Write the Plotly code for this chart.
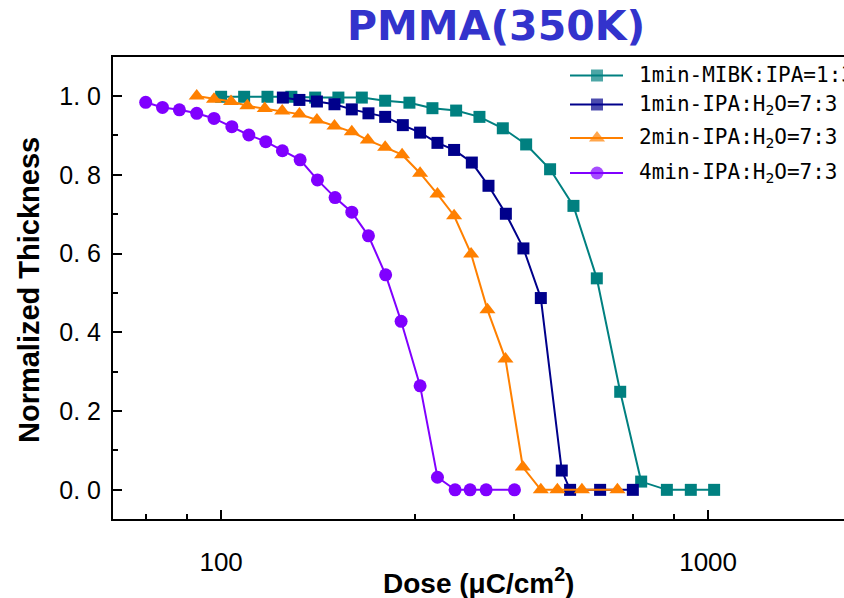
import plotly.graph_objects as go

# ---------------- data ----------------
teal_name = "1min-MIBK:IPA=1:3"
teal_dose = [100.0, 111.5, 124.5, 139.4, 156.0, 174.1, 194.5, 217.2, 243.6, 271.6, 303.8,
             339.2, 378.8, 423.0, 473.7, 529.0, 590.8, 659.9, 728.7, 822.8, 921.4, 1028.8]
teal_thk = [0.998, 0.998, 0.998, 0.998, 0.996, 0.996, 0.996, 0.988, 0.983, 0.969, 0.963,
            0.947, 0.918, 0.877, 0.814, 0.721, 0.537, 0.249, 0.021, 0.0, 0.0, 0.0]

navy_name = "1min-IPA:H<sub>2</sub>O=7:3"
navy_dose = [133.9, 144.8, 157.3, 170.9, 185.5, 200.7, 217.2, 236.1, 256.2, 278.1,
             300.9, 327.2, 354.0, 384.3, 417.6, 453.4, 500.6, 520.7, 600.1, 700.5]
navy_thk = [0.996, 0.990, 0.986, 0.979, 0.966, 0.956, 0.947, 0.926, 0.907, 0.881,
            0.863, 0.831, 0.772, 0.701, 0.613, 0.487, 0.049, 0.0, 0.0, 0.0]

orange_name = "2min-IPA:H<sub>2</sub>O=7:3"
orange_dose = [89.1, 96.7, 104.8, 113.2, 122.9, 133.5, 144.8, 157.3, 170.9, 185.5, 200.1, 217.2,
               235.3, 256.2, 278.1, 300.9, 326.1, 352.3, 383.6, 416.4, 453.4, 490.3, 550.6, 651.3]
orange_thk = [1.0, 0.992, 0.986, 0.975, 0.968, 0.962, 0.954, 0.939, 0.924, 0.909, 0.888, 0.870,
              0.851, 0.804, 0.751, 0.696, 0.599, 0.457, 0.332, 0.058, 0.0, 0.0, 0.0, 0.0]

purple_name = "4min-IPA:H<sub>2</sub>O=7:3"
purple_dose = [70.0, 75.8, 82.1, 89.1, 96.7, 105.2, 114.0, 123.5, 133.6, 145.3, 157.7,
               171.4, 185.5, 200.7, 217.7, 234.2, 256.2, 278.1, 302.3, 324.5, 350.1, 400.3]
purple_thk = [0.984, 0.971, 0.965, 0.956, 0.943, 0.922, 0.901, 0.884, 0.861, 0.838, 0.787,
              0.742, 0.705, 0.645, 0.546, 0.428, 0.264, 0.032, 0.0, 0.0, 0.0, 0.0]

y_tickvals = [0.0, 0.2, 0.4, 0.6, 0.8, 1.0]
y_ticktext = ["0.\u00a00", "0.\u00a02", "0.\u00a04", "0.\u00a06", "0.\u00a08", "1.\u00a00"]
x_tickvals = [100, 1000]
x_ticktext = ["100", "1000"]
x_minor_vals = [70, 85, 250, 400, 550, 700, 850]

# ---------------- styles ----------------
W, H = 844, 598
L, R, T, B = 113, 0, 57, 79
PW, PH = W - L - R, H - T - B

series = [
    (teal_name, teal_dose, teal_thk, "#008080", "square", 12),
    (navy_name, navy_dose, navy_thk, "#00008B", "square", 12),
    (orange_name, orange_dose, orange_thk, "#FF8000", "triangle-up", 14),
    (purple_name, purple_dose, purple_thk, "#8000FF", "circle", 13),
]

fig = go.Figure()
for name, xs, ys, col, sym, sz in series:
    fig.add_trace(go.Scatter(
        x=xs, y=ys, mode="lines+markers", name=name,
        line=dict(color=col, width=2),
        marker=dict(symbol=sym, size=sz, color=col, line=dict(width=0)),
        showlegend=False, cliponaxis=False,
    ))

# ---- custom legend (clipped at the right edge like the reference) ----
leg_rows = [75.5, 104.5, 138, 173]
leg_x0, leg_x1, leg_xm, leg_tx = 570, 623, 597, 637

def px_x(p):
    return (p - L) / PW

def px_y(p):
    return (H - B - p) / PH

annotations = []
for (name, xs, ys, col, sym, sz), ry in zip(series, leg_rows):
    fig.add_trace(go.Scatter(
        x=[px_x(leg_x0), px_x(leg_xm), px_x(leg_x1)], y=[px_y(ry)] * 3,
        xaxis="x2", yaxis="y2", mode="lines+markers",
        line=dict(color=col, width=2),
        marker=dict(symbol=sym, size=[0, sz, 0], color=col, line=dict(width=0)),
        showlegend=False, hoverinfo="skip", cliponaxis=False,
    ))
    annotations.append(dict(
        x=px_x(leg_tx), y=px_y(ry), xref="paper", yref="paper",
        xanchor="left", yanchor="middle", text=name, showarrow=False,
        font=dict(family="DejaVu Sans Mono", size=21, color="#000000"),
    ))

# axis titles
annotations.append(dict(
    x=0.5, y=px_y(581), xref="paper", yref="paper", xanchor="center", yanchor="middle",
    text="<b>Dose (μC/cm<sup>2</sup>)</b>", showarrow=False,
    font=dict(family="Liberation Sans", size=28, color="#000000"),
))
annotations.append(dict(
    x=px_x(29), y=px_y(290), xref="paper", yref="paper", xanchor="center", yanchor="middle",
    text="<b>Normalized Thickness</b>", showarrow=False, textangle=-90,
    font=dict(family="Liberation Sans", size=29, color="#000000"),
))
# title
annotations.append(dict(
    x=px_x(496), y=px_y(26), xref="paper", yref="paper", xanchor="center", yanchor="middle",
    text="<b>PMMA(350K)</b>", showarrow=False,
    font=dict(family="DejaVu Sans", size=41, color="#3333CC"),
))

fig.update_layout(
    width=W, height=H,
    margin=dict(l=L, r=R, t=T, b=B, pad=0),
    paper_bgcolor="white", plot_bgcolor="white",
    showlegend=False,
    annotations=annotations,
    xaxis=dict(
        type="log", range=[1.778, 3.279],
        tickmode="array", tickvals=x_tickvals, ticktext=x_ticktext,
        ticks="inside", ticklen=9, tickwidth=2, tickcolor="black",
        showline=True, linecolor="black", linewidth=2, mirror=True,
        showgrid=False, zeroline=False,
        tickfont=dict(family="Liberation Sans", size=26, color="black"),
        ticklabelstandoff=19,
        minor=dict(tickmode="array", tickvals=x_minor_vals, ticks="inside",
                   ticklen=5, tickwidth=2, tickcolor="black", showgrid=False),
    ),
    yaxis=dict(
        range=[-0.074, 1.099],
        tickmode="array", tickvals=y_tickvals, ticktext=y_ticktext,
        ticks="inside", ticklen=9, tickwidth=2, tickcolor="black",
        showline=True, linecolor="black", linewidth=2, mirror=False,
        showgrid=False, zeroline=False,
        tickfont=dict(family="Liberation Sans", size=25, color="black"),
        ticklabelstandoff=5,
        minor=dict(dtick=0.1, ticks="inside", ticklen=5, tickwidth=2,
                   tickcolor="black", showgrid=False),
    ),
    xaxis2=dict(overlaying="x", range=[0, 1], visible=False, fixedrange=True),
    yaxis2=dict(overlaying="y", range=[0, 1], visible=False, fixedrange=True),
)

fig.write_html("out.html")
